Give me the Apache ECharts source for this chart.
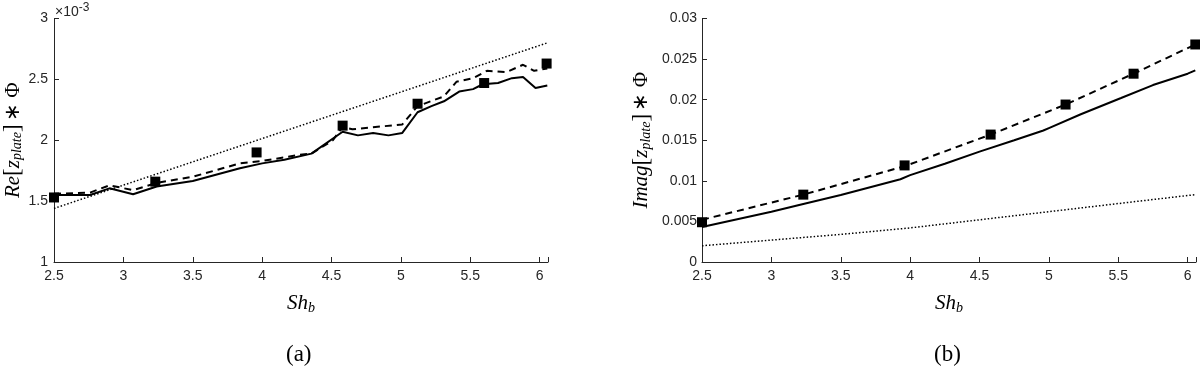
<!DOCTYPE html>
<html>
<head>
<meta charset="utf-8">
<script src="https://cdn.jsdelivr.net/npm/echarts@6/dist/echarts.min.js"></script>
<style>
  html, body { margin: 0; padding: 0; background: #fff; }
  #chart { width: 1200px; height: 375px; }
</style>
</head>
<body>
<div id="chart"></div>
<script>
// (a) real part, values in units of 1e-3
const reSolidX = [2.5, 2.76, 2.9, 3.07, 3.24, 3.5, 3.84, 4.0, 4.16, 4.355, 4.58, 4.69, 4.8, 4.91, 5.01, 5.12, 5.22, 5.31, 5.42, 5.52, 5.59, 5.7, 5.8, 5.88, 5.97, 6.055];
const reSolidY = [1.55, 1.55, 1.605, 1.556, 1.62, 1.665, 1.77, 1.81, 1.84, 1.89, 2.07, 2.04, 2.06, 2.04, 2.06, 2.23, 2.28, 2.32, 2.4, 2.42, 2.46, 2.47, 2.51, 2.52, 2.43, 2.45];
const reDashX = [2.5, 2.76, 2.9, 3.07, 3.24, 3.5, 3.84, 4.0, 4.27, 4.355, 4.51, 4.58, 4.65, 5.01, 5.12, 5.31, 5.4, 5.52, 5.62, 5.76, 5.88, 5.96, 6.055];
const reDashY = [1.56, 1.57, 1.63, 1.59, 1.65, 1.7, 1.81, 1.83, 1.88, 1.89, 2.0, 2.11, 2.09, 2.13, 2.28, 2.36, 2.48, 2.51, 2.57, 2.56, 2.62, 2.57, 2.59];
const reDotX = [2.5, 6.055];
const reDotY = [1.44, 2.8];
const reSqX = [2.5, 3.23, 3.96, 4.58, 5.12, 5.6, 6.05];
const reSqY = [1.53, 1.66, 1.9, 2.12, 2.3, 2.47, 2.63];

// (b) imaginary part
const imSolidX = [2.5, 3.0, 3.23, 3.5, 3.93, 4.0, 4.25, 4.5, 4.75, 4.96, 5.0, 5.23, 5.52, 5.75, 6.0, 6.055];
const imSolidY = [0.0043, 0.0062, 0.00715, 0.00825, 0.0102, 0.0107, 0.0121, 0.0136, 0.015, 0.0162, 0.0165, 0.0182, 0.0202, 0.0218, 0.0232, 0.0236];
const imDashX = [2.5, 3.23, 3.96, 4.58, 5.12, 5.61, 6.055];
const imDashY = [0.0052, 0.0083, 0.0118, 0.0157, 0.0194, 0.0232, 0.0268];
const imDotX = [2.5, 3.0, 3.5, 4.0, 4.5, 5.0, 5.5, 6.055];
const imDotY = [0.002, 0.0027, 0.0034, 0.0042, 0.0052, 0.0062, 0.0072, 0.0083];
const imSqX = [2.5, 3.23, 3.96, 4.58, 5.12, 5.61, 6.055];
const imSqY = [0.0049, 0.0083, 0.0119, 0.0157, 0.0194, 0.0232, 0.0268];

const xTicks = [2.5, 3, 3.5, 4, 4.5, 5, 5.5, 6];

const pairs = (xs, ys) => xs.map((x, i) => [x, ys[i]]);

const ink = '#262626';
const serif = 'Liberation Serif';
const sans = 'Liberation Sans';

const nameRich = {
  it: { fontFamily: serif, fontStyle: 'italic', fontSize: 21, color: '#000' },
  br: { fontFamily: serif, fontSize: 23, color: '#000' },
  sub: { fontFamily: serif, fontStyle: 'italic', fontSize: 14, color: '#000', padding: [9, 0, 0, 0] },
  up: { fontFamily: serif, fontSize: 21, color: '#000' }
};

function xAxisFor(gridIndex) {
  return {
    type: 'value', gridIndex, min: 2.5, max: 6.06, interval: 0.5,
    splitLine: { show: false },
    axisLine: { lineStyle: { color: ink, width: 1 } },
    axisTick: { inside: true, length: 5, lineStyle: { color: ink } },
    axisLabel: {
      color: ink, fontFamily: sans, fontSize: 14, margin: 7,
      formatter: v => (xTicks.some(t => Math.abs(t - v) < 1e-6) ? String(v) : '')
    },
    name: '{it|Sh}{sub|b}', nameLocation: 'middle', nameGap: 30,
    nameTextStyle: { rich: nameRich }
  };
}

function line(xi, data, type, width) {
  return {
    type: 'line', xAxisIndex: xi, yAxisIndex: xi, data, showSymbol: false, symbol: 'none',
    lineStyle: { color: '#000', width, type }, silent: true, animation: false, clip: false
  };
}

function squares(xi, data) {
  return {
    type: 'scatter', xAxisIndex: xi, yAxisIndex: xi, data, symbol: 'rect', symbolSize: 10,
    itemStyle: { color: '#000', opacity: 1 }, silent: true, animation: false, clip: false
  };
}

const chart = echarts.init(document.getElementById('chart'), null, { renderer: 'canvas' });
chart.setOption({
  backgroundColor: '#fff',
  animation: false,
  grid: [
    { left: 54, top: 18.5, width: 494, height: 243.5 },
    { left: 702, top: 18.5, width: 494, height: 243.5 }
  ],
  xAxis: [xAxisFor(0), xAxisFor(1)],
  yAxis: [
    {
      type: 'value', gridIndex: 0, min: 1, max: 3, interval: 0.5,
      splitLine: { show: false },
      axisLine: { show: true, lineStyle: { color: ink } },
      axisTick: { show: true, inside: true, length: 5, lineStyle: { color: ink } },
      axisLabel: { color: ink, fontFamily: sans, fontSize: 14, margin: 6 },
      name: '{it|Re}{br|[}{it|z}{sub|plate}{br|]} {up|∗ Φ}',
      nameLocation: 'middle', nameRotate: 90, nameGap: 27,
      nameTextStyle: { rich: nameRich }
    },
    {
      type: 'value', gridIndex: 1, min: 0, max: 0.03, interval: 0.005,
      splitLine: { show: false },
      axisLine: { show: true, lineStyle: { color: ink } },
      axisTick: { show: true, inside: true, length: 5, lineStyle: { color: ink } },
      axisLabel: { color: ink, fontFamily: sans, fontSize: 14, margin: 5 },
      name: '{it|Imag}{br|[}{it|z}{sub|plate}{br|]} {up|∗ Φ}',
      nameLocation: 'middle', nameRotate: 90, nameGap: 49,
      nameTextStyle: { rich: nameRich }
    }
  ],
  graphic: [
    {
      type: 'text', left: 55, top: 2,
      style: {
        text: '×10{sup|-3}', fill: ink, font: '14px ' + sans,
        rich: { sup: { fontSize: 12, fontFamily: sans, fill: ink, padding: [0, 0, 8, 0] } }
      }
    },
    { type: 'text', left: 286, top: 343, style: { text: '(a)', fill: '#000', font: '23px ' + serif } },
    { type: 'text', left: 934, top: 343, style: { text: '(b)', fill: '#000', font: '23px ' + serif } }
  ],
  series: [
    line(0, pairs(reDotX, reDotY), [1.5, 2], 1.5),
    line(0, pairs(reSolidX, reSolidY), 'solid', 2),
    line(0, pairs(reDashX, reDashY), [7, 5], 2),
    squares(0, pairs(reSqX, reSqY)),
    line(1, pairs(imDotX, imDotY), [1.5, 2], 1.5),
    line(1, pairs(imSolidX, imSolidY), 'solid', 2),
    line(1, pairs(imDashX, imDashY), [7, 5], 2),
    squares(1, pairs(imSqX, imSqY))
  ]
});
</script>
</body>
</html>
